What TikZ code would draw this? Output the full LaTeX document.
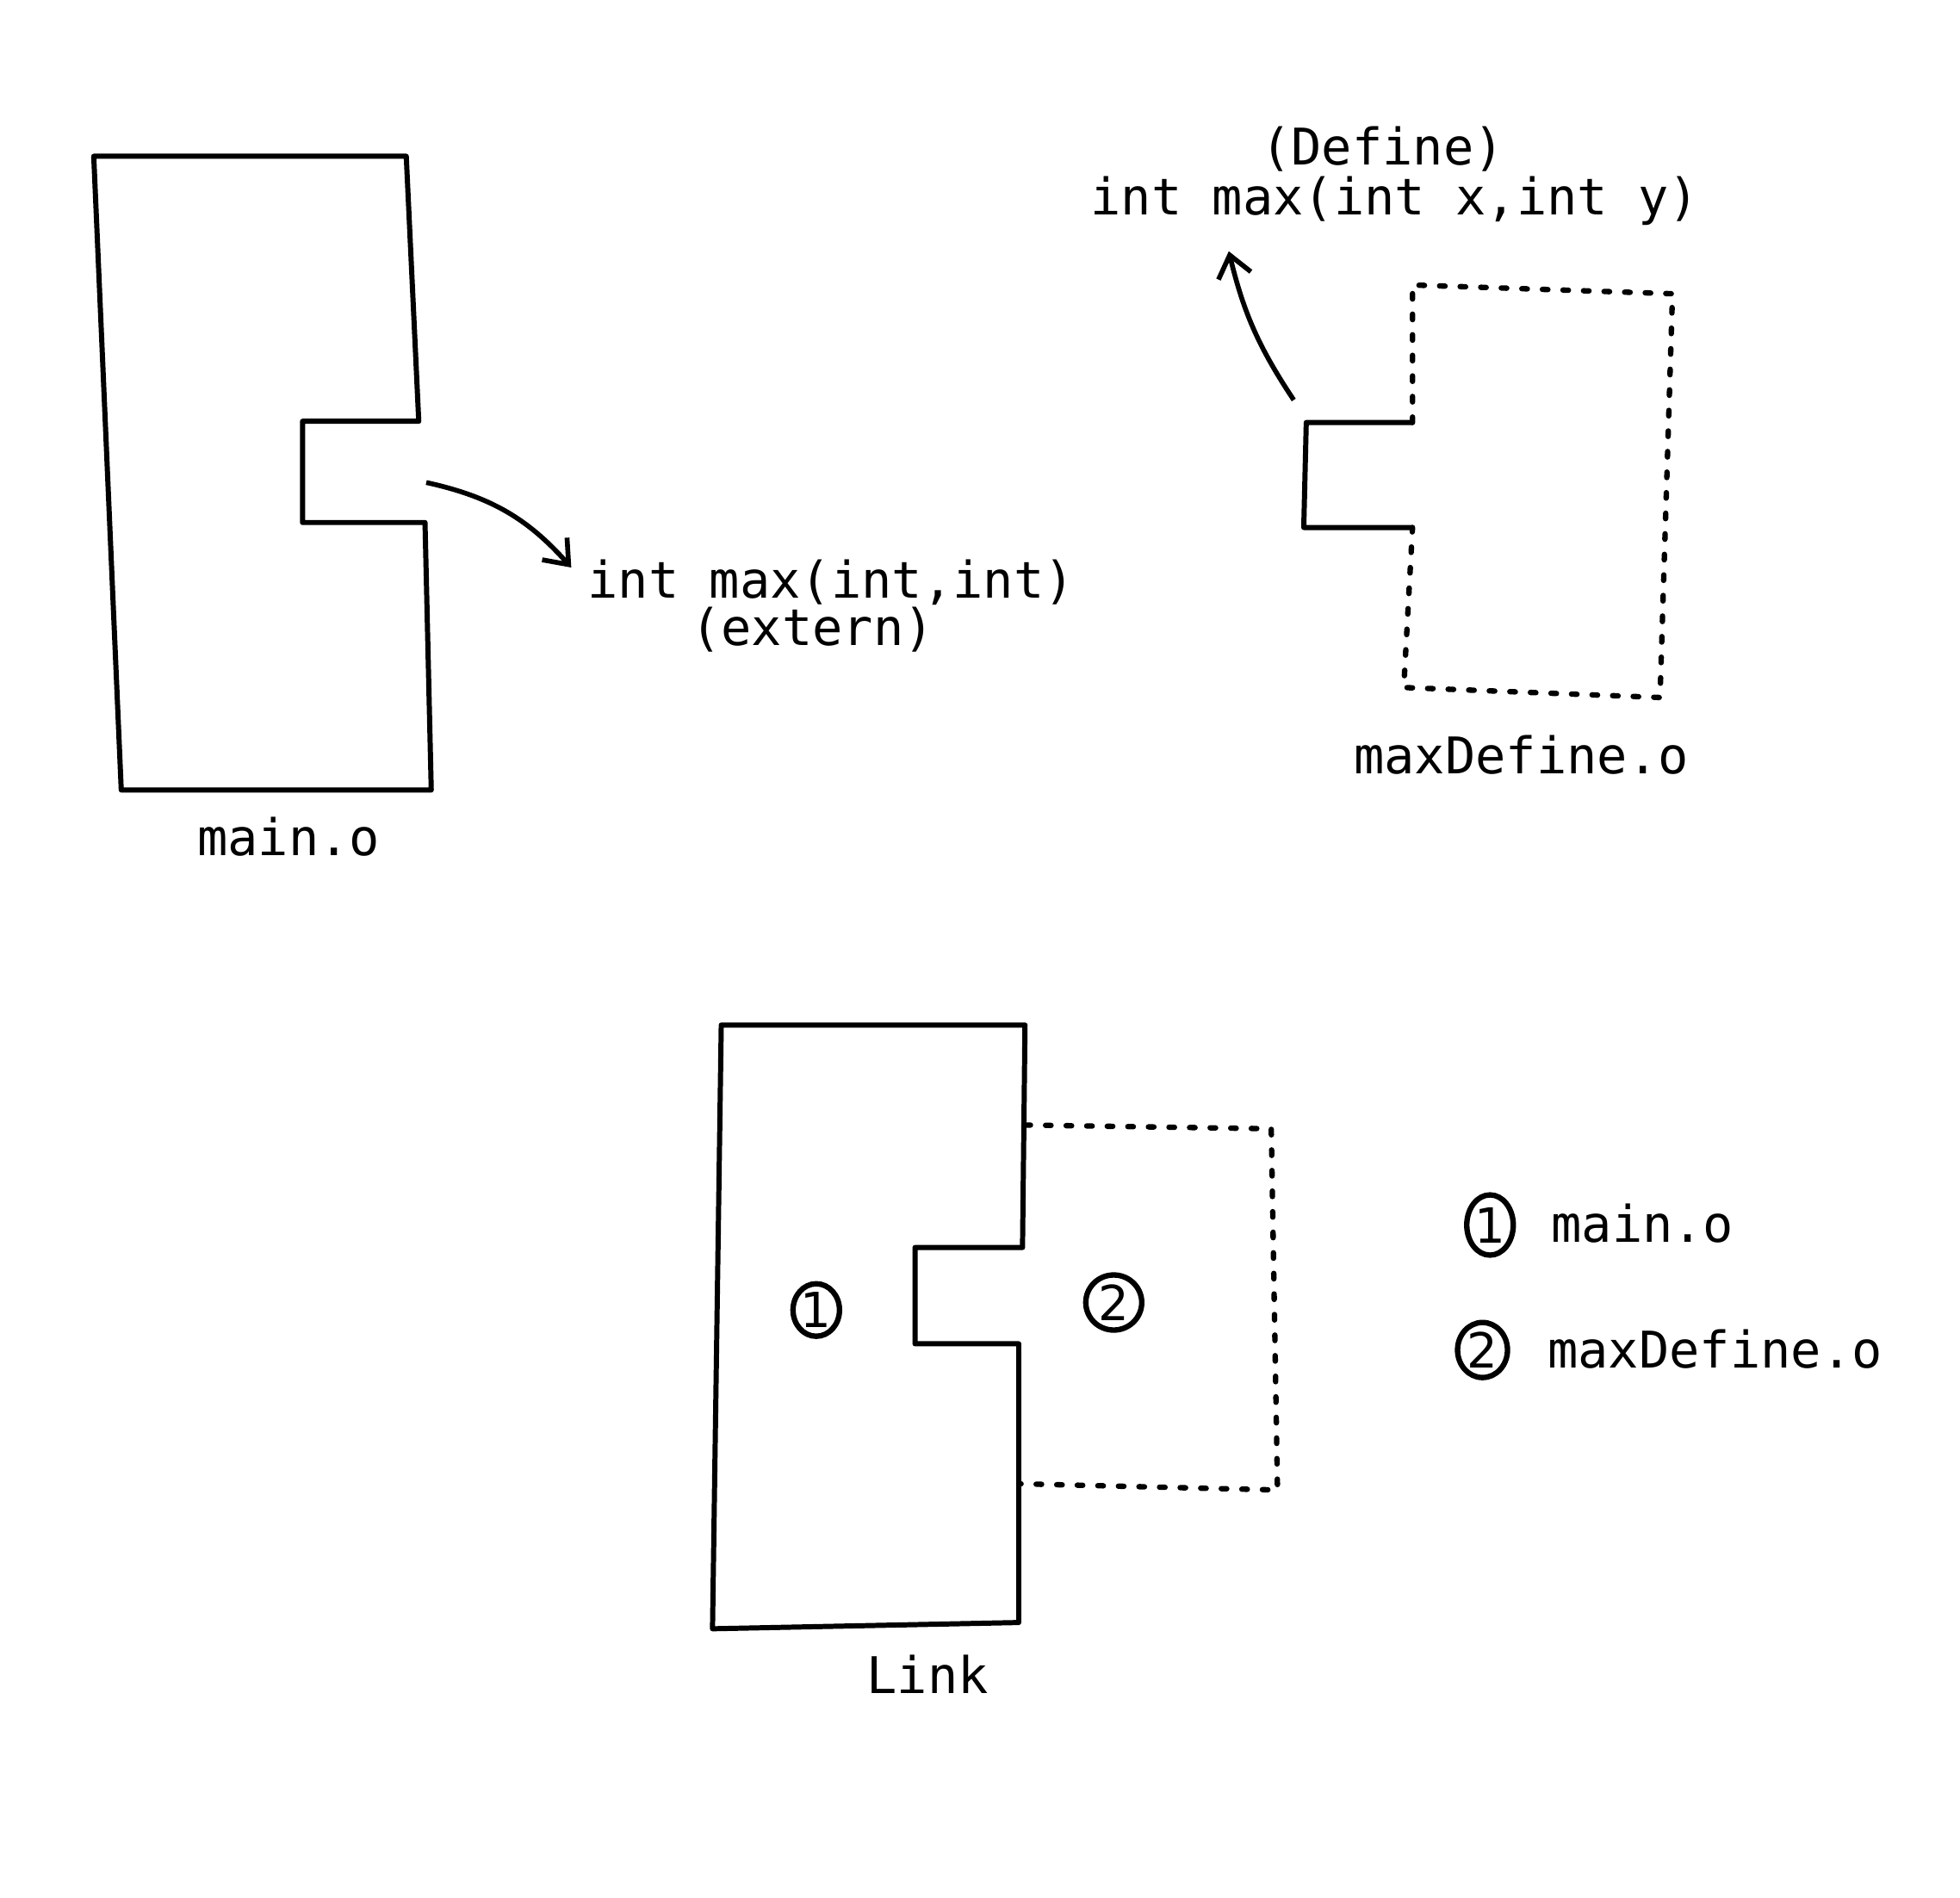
\documentclass[tikz,border=0pt]{standalone}
\usepackage{fontspec}
\usepackage{tikz}
\usetikzlibrary{arrows.meta,shapes.geometric}
\newfontfamily\codefont{DejaVu Sans Mono}
\newfontfamily\digitfont{DejaVu Sans}
\tikzset{
  outline/.style={line width=1.7pt, line join=round},
  dotline/.style={line width=1.8pt, line cap=round, dash pattern=on 1.8pt off 5pt},
  codetext/.style={font=\codefont\fontsize{16.7}{18}\selectfont, inner sep=0pt, text height=0.75em, text depth=0.2em},
  circnum/.style={draw, ellipse, line width=1.8pt, inner sep=0pt, font=\digitfont\fontsize{16}{17}\selectfont},
  pointer/.style={line width=1.6pt, -{Straight Barb[length=7pt,width=11pt]}}
}
\begin{document}
\begin{tikzpicture}[x=0.1452mm,y=-0.1452mm]%[scale=0.8]
\useasboundingbox (0,0) rectangle (1568,1518);
%\draw [help lines, step=100] (0,0) grid (1568,1518);
% main.o
\draw [outline] (75,125)--(325,125)--(335,337)--(242,337)--(242,418)--(340,418)--(345,632)--(97,632)--cycle;
\node [codetext] (mainlbl) at (231,678) {main.o};
\coordinate (mainhole) at (341,386);
\coordinate (externtip) at (457,454);
\node [codetext] (externsig) at (665,472) {int max(int,int)};
\node [codetext] (externtag) at (650,510) {(extern)};
\draw [pointer] (mainhole) to[bend left=18] (externtip);
% maxDefine.o
\draw [outline] (1130,338)--(1045,338)--(1043,422)--(1130,422);
\draw [dotline] (1130,338)--(1130,228)--(1338,235)--(1328,558)--(1123,550)--(1130,422);
\node [codetext] (deftag) at (1106,125) {(Define)};
\node [codetext] (defsig) at (1116,165) {int max(int x,int y)};
\node [codetext] (maxlbl) at (1217,612) {maxDefine.o};
\coordinate (maxtab) at (1035,320);
\coordinate (definetip) at (983,201);
\draw [pointer] (maxtab) to[bend left=10] (definetip);
% Link
\draw [outline] (818,998)--(732,998)--(732,1075)--(815,1075)--(815,1298)--(570,1303)--(577,820)--(820,820)--cycle;
\draw [dotline] (820,900)--(1017,903)--(1022,1192)--(815,1187);
\node [circnum, minimum width=5.4mm, minimum height=6.1mm] (linkone) at (653,1048) {1};
\node [circnum, minimum width=6.5mm, minimum height=6.4mm] (linktwo) at (891,1042) {2};
\node [codetext] (linklbl) at (742,1348) {Link};
% legend
\node [circnum, minimum width=5.4mm, minimum height=7mm] (keyone) at (1192,980) {1};
\node [codetext] (keyonetxt) at (1314,987) {main.o};
\node [circnum, minimum width=5.8mm, minimum height=6.4mm] (keytwo) at (1186,1080) {2};
\node [codetext] (keytwotxt) at (1372,1088) {maxDefine.o};
\end{tikzpicture}
\end{document}
